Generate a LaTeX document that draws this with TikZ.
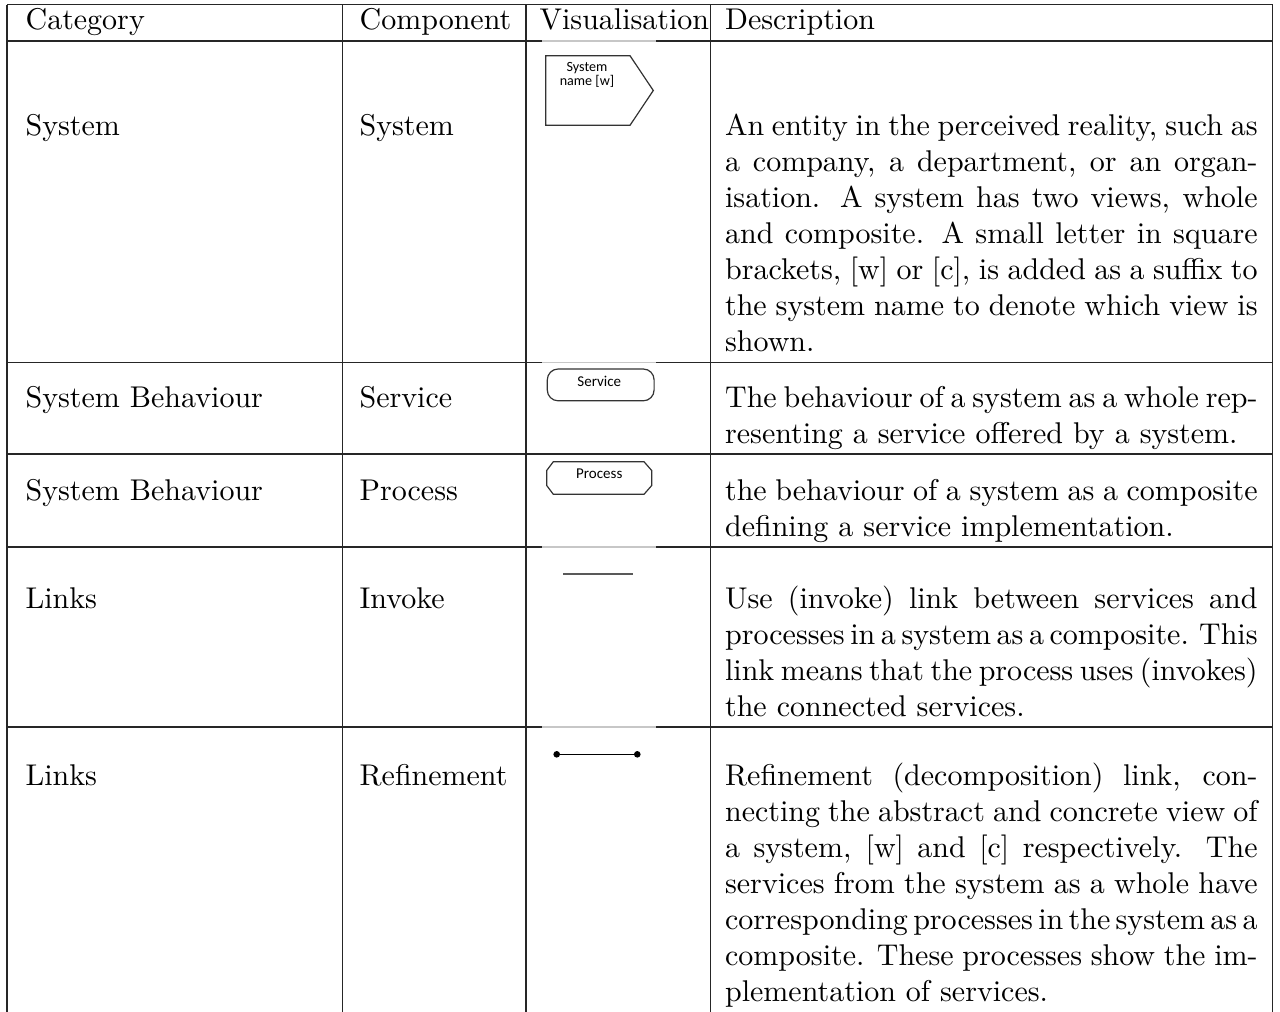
\documentclass[tikz,border=0pt]{standalone}
\usepackage{fontspec}
\newfontfamily\shapefont{Carlito}
\newlength\descw
\setlength{\descw}{177.5pt}
% justified description cell, with a little more room for tight lines
\newcommand{\desctext}[1]{\parbox[t]{\descw}{%
  \spaceskip=3.33pt plus 1.67pt minus 1.68pt
  \xspaceskip=4.44pt plus 5pt minus 1.2pt
  #1}}
\begin{document}
\begin{tikzpicture}[x=0.333333pt, y=-0.333333pt,
  rule/.style={line width=0.4pt, draw=black!85},
  fade/.style={line width=0.45pt, draw=black!22},
  cell/.style={anchor=base west, inner sep=0pt},
  shapeline/.style={draw=black!80, line width=0.4pt},
  shapetext/.style={font=\shapefont\fontsize{4.7}{4.9}\selectfont, inner sep=0pt, align=center},
  boxtext/.style={font=\shapefont\fontsize{5}{5.2}\selectfont, inner sep=0pt},
  dot/.style={circle, fill=black, inner sep=0pt, minimum size=2.2pt}
]
\useasboundingbox (0,0) rectangle (1280,1012);

% table grid
\foreach \x in {7, 342.5, 526, 710.7, 1272.7}
  \draw[rule] (\x,4.5) -- (\x,1012);
\foreach \y in {4.5, 41, 362.5, 454, 547, 727}
  \draw[rule] (7,\y) -- (1272.7,\y);
% pale image frames lying on the rules of the visualisation column
\foreach \y in {41, 362.5, 547, 727}
  \draw[fade] (542,\y) -- (656,\y);

% header
\node[cell] (h1) at (25,29.5) {Category};
\node[cell] (h2) at (359,29.5) {Component};
\node[cell] (h3) at (539,29.5) {Visualisation};
\node[cell] (h4) at (724.5,29.5) {Description};

% row: system
\node[cell] (c1) at (25,135) {System};
\node[cell] (k1) at (359,135) {System};
\node[cell] (d1) at (724.5,135) {\desctext{An entity in the perceived reality, such as\linebreak a company, a department, or an organ-\linebreak isation.  A system has two views, whole\linebreak and composite.  A small letter in square\linebreak brackets, [w] or [c], is added as a suffix to\linebreak the system name to denote which view is\linebreak shown.}};
\draw[shapeline] (545.7,55.7) -- (630,55.7) -- (653.3,90.5) -- (630,125.3) -- (545.7,125.3) -- cycle;
\node[shapetext] (sysname) at (587,75) {System\\name [w]};

% row: service
\node[cell] (c2) at (25,407) {System Behaviour};
\node[cell] (k2) at (359,407) {Service};
\node[cell] (d2) at (724.5,407) {\desctext{The behaviour of a system as a whole rep-\linebreak resenting a service offered by a system.}};
\node[shapeline, rounded corners=3.6pt, minimum width=35.6pt, minimum height=10.6pt, inner sep=0pt] (service) at (600.7,384.9) {};
\node[boxtext] (servicename) at (599.3,381.5) {Service};

% row: process
\node[cell] (c3) at (25,500) {System Behaviour};
\node[cell] (k3) at (359,500) {Process};
\node[cell] (d3) at (724.5,500) {\desctext{the behaviour of a system as a composite\linebreak defining a service implementation.}};
\draw[shapeline] (553.3,461.7) -- (644,461.7) -- (651.7,470.5) -- (651.7,485.5) -- (644,494.3) -- (553.3,494.3) -- (546.7,485.5) -- (546.7,470.5) -- cycle;
\node[boxtext] (processname) at (599.3,474) {Process};

% row: invoke
\node[cell] (c4) at (25,608) {Links};
\node[cell] (k4) at (359,608) {Invoke};
\node[cell] (d4) at (724.5,608) {\desctext{Use (invoke) link between services and\linebreak processes in a system as a composite. This\linebreak link means that the process uses (invokes)\linebreak the connected services.}};
\coordinate (inva) at (563.3,574);
\coordinate (invb) at (633.3,574);
\draw[draw=black!65, line width=0.7pt] (inva) -- (invb);

% row: refinement
\node[cell] (c5) at (25,785) {Links};
\node[cell] (k5) at (359,785) {Refinement};
\node[cell] (d5) at (724.5,785) {\desctext{Refinement (decomposition) link, con-\linebreak necting the abstract and concrete view of\linebreak a system, [w] and [c] respectively.  The\linebreak services from the system as a whole have\linebreak corresponding processes in the system as a\linebreak composite.  These processes show the im-\linebreak plementation of services.}};
\node[dot] (refa) at (556.7,754.3) {};
\node[dot] (refb) at (637.3,754.3) {};
\draw[line width=0.5pt] (refa.center) -- (refb.center);
\end{tikzpicture}
\end{document}
